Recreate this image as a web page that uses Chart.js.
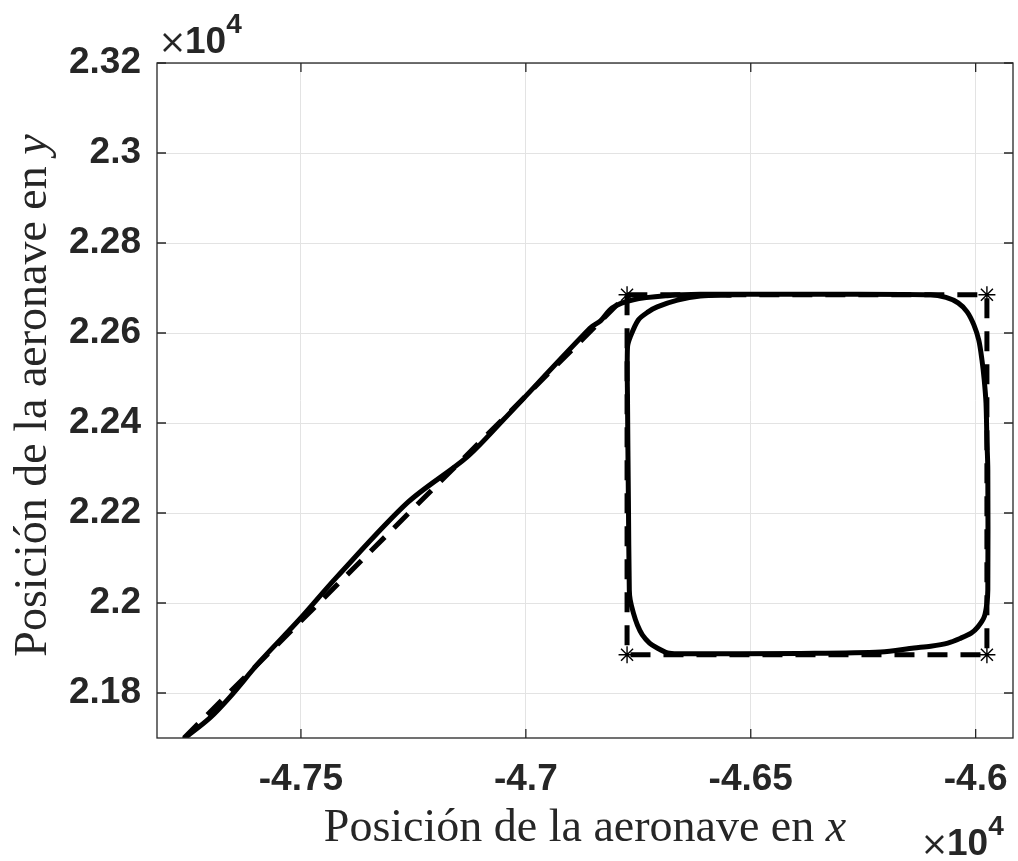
<!DOCTYPE html>
<html>
<head>
<meta charset="utf-8">
<script src="https://cdn.jsdelivr.net/npm/chart.js@4.4.1/dist/chart.umd.min.js"></script>
<style>
  html, body { margin: 0; padding: 0; background: #fff; }
  canvas { display: block; }
</style>
</head>
<body>
<canvas id="myChart" width="1018" height="861"></canvas>
<script>
// flown trajectory (solid line)
const trajX = [-47758, -47703, -47658, -47592, -47503, -47420, -47262, -47131, -47050, -46857,
  -46834, -46808, -46761, -46685, -46612, -46389, -46100, -46066, -46039, -46019, -46004, -45993,
  -45986, -45981, -45977, -45975, -45973, -45973, -45975, -45981, -45995, -46010, -46033, -46062,
  -46100, -46137, -46211, -46389, -46663, -46685, -46708, -46725, -46741, -46752, -46761, -46768,
  -46770, -46772, -46774, -46774, -46768, -46750, -46728, -46708, -46663, -46612, -46545];
const trajY = [21700, 21744, 21791, 21869, 21964, 22058, 22224, 22324, 22407, 22611,
  22627, 22656, 22674, 22683, 22686, 22686, 22685, 22679, 22667, 22647, 22618, 22584,
  22540, 22496, 22444, 22362, 22296, 22029, 22000, 21969, 21947, 21933, 21922, 21911,
  21904, 21900, 21891, 21888, 21887, 21889, 21900, 21911, 21929, 21951, 21978, 22007,
  22029, 22229, 22450, 22569, 22591, 22629, 22647, 22658, 22673, 22682, 22684];

// reference path (dashed line)
const refX = [-47760, -46775, -45975, -45975, -46775, -46775];
const refY = [21700, 22685, 22685, 21885, 21885, 22685];

// waypoints (asterisks)
const wpX = [-46775, -45975, -45975, -46775];
const wpY = [22685, 22685, 21885, 21885];

const xTicks = [-47500, -47000, -46500, -46000];
const xTickLabels = ['-4.75', '-4.7', '-4.65', '-4.6'];
const yTicks = [21800, 22000, 22200, 22400, 22600, 22800, 23000, 23200];
const yTickLabels = ['2.18', '2.2', '2.22', '2.24', '2.26', '2.28', '2.3', '2.32'];

const xTitle = 'Posición de la aeronave en ';
const yTitle = 'Posición de la aeronave en ';

function toPoints(xs, ys) {
  return xs.map((v, i) => ({ x: v, y: ys[i] }));
}

const TXT = '#262626';
const titleFont = '46px "Liberation Serif", "Times New Roman", serif';
const titleFontIt = 'italic 46px "Liberation Serif", "Times New Roman", serif';

// "x10^4" multiplier, left edge + baseline of the "10"
function drawExponent(ctx, left, base) {
  ctx.save();
  ctx.strokeStyle = TXT;
  ctx.lineWidth = 2.6;
  ctx.beginPath();
  ctx.moveTo(left + 2, base - 19); ctx.lineTo(left + 19, base - 2);
  ctx.moveTo(left + 19, base - 19); ctx.lineTo(left + 2, base - 2);
  ctx.stroke();
  ctx.restore();
  ctx.textAlign = 'left';
  ctx.textBaseline = 'alphabetic';
  ctx.font = 'bold 37px "Liberation Sans", Arial, sans-serif';
  ctx.fillText('10', left + 23, base);
  const w2 = ctx.measureText('10').width;
  ctx.font = 'bold 28px "Liberation Sans", Arial, sans-serif';
  ctx.fillText('4', left + 23 + w2, base - 20);
}

const decorations = {
  id: 'decorations',
  afterDraw(chart) {
    const { ctx, chartArea: a, scales: { x, y } } = chart;
    ctx.save();
    // box
    ctx.strokeStyle = TXT;
    ctx.lineWidth = 1.3;
    ctx.strokeRect(a.left, a.top, a.right - a.left, a.bottom - a.top);
    // inward ticks
    ctx.beginPath();
    xTicks.forEach(v => {
      const px = x.getPixelForValue(v);
      ctx.moveTo(px, a.bottom); ctx.lineTo(px, a.bottom - 9);
      ctx.moveTo(px, a.top); ctx.lineTo(px, a.top + 9);
    });
    yTicks.forEach(v => {
      const py = y.getPixelForValue(v);
      ctx.moveTo(a.left, py); ctx.lineTo(a.left + 9, py);
      ctx.moveTo(a.right, py); ctx.lineTo(a.right - 9, py);
    });
    ctx.stroke();

    ctx.fillStyle = TXT;
    // x title
    ctx.font = titleFont;
    const wx1 = ctx.measureText(xTitle).width;
    ctx.font = titleFontIt;
    const wx2 = ctx.measureText('x').width;
    const cx = (a.left + a.right) / 2 - (wx1 + wx2) / 2;
    ctx.textAlign = 'left';
    ctx.textBaseline = 'alphabetic';
    ctx.font = titleFont;
    ctx.fillText(xTitle, cx, 841);
    ctx.font = titleFontIt;
    ctx.fillText('x', cx + wx1, 841);

    // y title
    ctx.save();
    ctx.translate(46, (a.top + a.bottom) / 2 - 5);
    ctx.rotate(-Math.PI / 2);
    ctx.font = titleFont;
    const wy1 = ctx.measureText(yTitle).width;
    ctx.font = titleFontIt;
    const wy2 = ctx.measureText('y').width;
    const cy = -(wy1 + wy2) / 2;
    ctx.font = titleFont;
    ctx.fillText(yTitle, cy, 0);
    ctx.font = titleFontIt;
    ctx.fillText('y', cy + wy1, 0);
    ctx.restore();

    // exponent labels
    drawExponent(ctx, a.left + 5, 53);
    drawExponent(ctx, a.right - 89, 855);
    ctx.restore();
  }
};

new Chart(document.getElementById('myChart'), {
  type: 'scatter',
  data: {
    datasets: [
      {
        label: 'trayectoria',
        data: toPoints(trajX, trajY),
        showLine: true,
        borderColor: '#000',
        borderWidth: 5,
        pointRadius: 0,
        tension: 0.3,
        borderJoinStyle: 'round',
        borderCapStyle: 'round'
      },
      {
        label: 'referencia',
        data: toPoints(refX, refY),
        showLine: true,
        borderColor: '#000',
        borderWidth: 5,
        borderDash: [20, 13],
        pointRadius: 0,
        tension: 0
      },
      {
        label: 'waypoints',
        data: toPoints(wpX, wpY),
        showLine: false,
        pointStyle: 'star',
        pointRadius: 8.5,
        borderColor: '#000',
        backgroundColor: '#000',
        pointBorderWidth: 1.4
      }
    ]
  },
  options: {
    responsive: false,
    animation: false,
    events: [],
    layout: { autoPadding: false, padding: { left: 0, right: 5, top: 63, bottom: 0 } },
    plugins: { legend: { display: false }, tooltip: { enabled: false } },
    scales: {
      x: {
        type: 'linear',
        min: -47820,
        max: -45917,
        afterBuildTicks: s => { s.ticks = xTicks.map(v => ({ value: v })); },
        afterFit: s => { s.height = 123; s.paddingLeft = 0; s.paddingRight = 0; },
        grid: { color: '#e3e3e3', lineWidth: 1, drawTicks: false },
        border: { display: false },
        ticks: {
          padding: 20,
          color: TXT,
          font: { family: '"Liberation Sans", Arial, sans-serif', size: 37, weight: 'bold' },
          maxRotation: 0,
          callback: (v) => xTickLabels[xTicks.indexOf(v)]
        }
      },
      y: {
        type: 'linear',
        min: 21700,
        max: 23200,
        afterBuildTicks: s => { s.ticks = yTicks.map(v => ({ value: v })); },
        afterFit: s => { s.width = 157; s.paddingTop = 0; s.paddingBottom = 0; },
        grid: { color: '#e3e3e3', lineWidth: 1, drawTicks: false },
        border: { display: false },
        ticks: {
          padding: 16,
          color: TXT,
          font: { family: '"Liberation Sans", Arial, sans-serif', size: 37, weight: 'bold' },
          callback: (v) => yTickLabels[yTicks.indexOf(v)]
        }
      }
    }
  },
  plugins: [decorations]
});
</script>
</body>
</html>
